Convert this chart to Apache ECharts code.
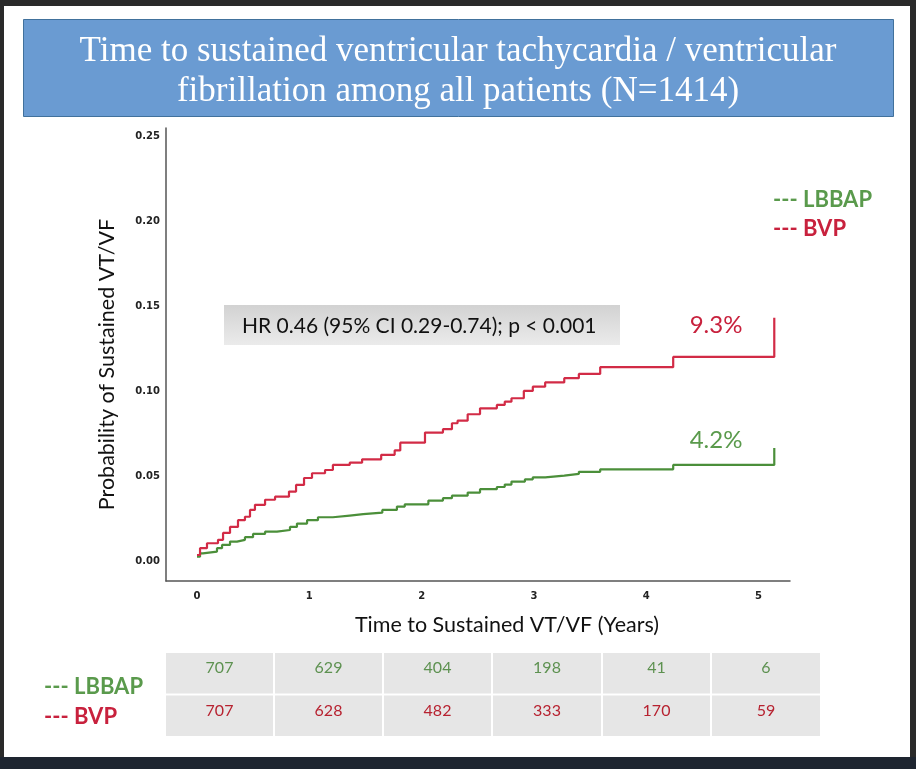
<!DOCTYPE html>
<html><head><meta charset="utf-8">
<script src="https://cdn.jsdelivr.net/npm/echarts@6/dist/echarts.min.js"></script>
<style>
html,body{margin:0;padding:0;width:916px;height:769px;overflow:hidden;background:#2a2a2a;}
#panel{position:absolute;left:4px;top:6px;width:906px;height:751px;background:#fff;}
#strip{position:absolute;left:0;top:757px;width:916px;height:12px;background:#1e2530;}
#chart{position:absolute;left:0;top:0;width:916px;height:769px;}
</style></head><body>
<div id="panel"></div><div id="strip"></div><div id="chart"></div>
<script>
// ---- data ----
const titleLines = ['Time to sustained ventricular tachycardia / ventricular', 'fibrillation among all patients (N=1414)'];
const xTicks = [0, 1, 2, 3, 4, 5];
const yTicks = [0, 0.05, 0.10, 0.15, 0.20, 0.25];
const seriesNames = ['LBBAP', 'BVP'];
const lbbapTime = [0, 0.027, 0.053, 0.178, 0.223, 0.294, 0.356, 0.427, 0.499, 0.606, 0.712, 0.828, 0.890, 0.980, 1.077, 1.21, 1.36, 1.48, 1.65, 1.78, 1.85, 2.06, 2.19, 2.27, 2.41, 2.52, 2.67, 2.74, 2.80, 2.92, 2.99, 3.10, 3.27, 3.40, 3.59, 4.24, 5.14, 5.14];
const lbbapProb = [0.0025, 0.0045, 0.0055, 0.0075, 0.0094, 0.0114, 0.0124, 0.014, 0.0159, 0.0172, 0.0182, 0.020, 0.022, 0.024, 0.0257, 0.0267, 0.0275, 0.0284, 0.030, 0.032, 0.0333, 0.0355, 0.0369, 0.0384, 0.0402, 0.0422, 0.0435, 0.0449, 0.0467, 0.048, 0.0492, 0.0502, 0.0512, 0.0524, 0.0539, 0.0565, 0.0565, 0.0665];
const bvpTime = [0, 0.027, 0.089, 0.187, 0.232, 0.294, 0.365, 0.427, 0.472, 0.516, 0.606, 0.695, 0.819, 0.882, 0.953, 1.024, 1.14, 1.21, 1.36, 1.47, 1.64, 1.76, 1.81, 2.03, 2.19, 2.27, 2.32, 2.41, 2.52, 2.67, 2.74, 2.80, 2.91, 2.99, 3.10, 3.27, 3.40, 3.59, 4.24, 5.14, 5.14];
const bvpProb = [0.0035, 0.0075, 0.0104, 0.0124, 0.0165, 0.020, 0.024, 0.026, 0.030, 0.033, 0.036, 0.0378, 0.0408, 0.0447, 0.0488, 0.0516, 0.0535, 0.0565, 0.0578, 0.0598, 0.0624, 0.065, 0.0696, 0.0755, 0.0775, 0.081, 0.0825, 0.0863, 0.0898, 0.0918, 0.0937, 0.0957, 0.100, 0.1025, 0.105, 0.1075, 0.110, 0.114, 0.120, 0.120, 0.143];
const finalLabels = ['4.2%', '9.3%'];
const atRiskLBBAP = [707, 629, 404, 198, 41, 6];
const atRiskBVP = [707, 628, 482, 333, 170, 59];
const hrText = 'HR 0.46 (95% CI 0.29-0.74); p < 0.001';
const xTitle = 'Time to Sustained VT/VF (Years)';
const yTitle = 'Probability of Sustained VT/VF';

// ---- styles ----
const GREEN = '#4b8f3a', RED = '#d22b46';
const GREEN_T = '#5a9a4c', RED_T = '#c8213d';
const SANS = 'Lato, "Open Sans", sans-serif';

const zip = (a, b) => a.map((v, i) => [v, b[i]]);

const chart = echarts.init(document.getElementById('chart'), null, {renderer: 'canvas'});

const graphics = [];
// title box
graphics.push({type: 'rect', shape: {x: 23.5, y: 19.5, width: 870, height: 97}, style: {fill: '#6a9bd2', stroke: '#41719c', lineWidth: 1}, z: 0});
titleLines.forEach((t, i) => graphics.push({type: 'text', x: 458, y: 52 + i * 40, style: {text: t, fill: '#fff', font: '35px "Liberation Serif", "Times New Roman", serif', textAlign: 'center', textVerticalAlign: 'middle'}}));
// HR box
graphics.push({type: 'rect', shape: {x: 224, y: 305, width: 396, height: 40}, style: {fill: new echarts.graphic.LinearGradient(0, 0, 0, 1, [{offset: 0, color: '#d2d2d2'}, {offset: 1, color: '#ebebeb'}])}});
graphics.push({type: 'text', x: 242, y: 326, style: {text: hrText, fill: '#111', font: '21px ' + SANS, textVerticalAlign: 'middle'}});
// final percentage labels
graphics.push({type: 'text', x: 716, y: 325, style: {text: finalLabels[1], fill: RED_T, font: '24px ' + SANS, textAlign: 'center', textVerticalAlign: 'middle'}});
graphics.push({type: 'text', x: 716, y: 440, style: {text: finalLabels[0], fill: GREEN_T, font: '24px ' + SANS, textAlign: 'center', textVerticalAlign: 'middle'}});
// at-risk table
const colEdges = [165, 274, 383, 492, 602, 711, 821];
const rowEdges = [652, 694.5, 737];
[atRiskLBBAP, atRiskBVP].forEach((row, r) => {
  row.forEach((v, c) => {
    graphics.push({type: 'rect', shape: {x: colEdges[c] + 1, y: rowEdges[r] + 1, width: colEdges[c + 1] - colEdges[c] - 2, height: rowEdges[r + 1] - rowEdges[r] - 2}, style: {fill: '#e6e6e6'}});
    graphics.push({type: 'text', x: (colEdges[c] + colEdges[c + 1]) / 2, y: rowEdges[r] + 16, style: {text: String(v), fill: r === 0 ? '#5d9150' : '#b72230', font: '16px ' + SANS, textAlign: 'center', textVerticalAlign: 'middle'}});
  });
});
graphics.push({type: 'text', x: 44, y: 687, style: {text: '--- ' + seriesNames[0], fill: GREEN_T, font: 'bold 22px ' + SANS, textVerticalAlign: 'middle'}});
graphics.push({type: 'text', x: 44, y: 717, style: {text: '--- ' + seriesNames[1], fill: RED_T, font: 'bold 22px ' + SANS, textVerticalAlign: 'middle'}});

chart.setOption({
  animation: false,
  backgroundColor: 'transparent',
  grid: {left: 166, top: 128, width: 624, height: 453, containLabel: false},
  legend: {
    orient: 'vertical', left: 768, top: 184, icon: 'none', itemWidth: 0, itemGap: 7,
    formatter: '--- {name}',
    data: [
      {name: seriesNames[0], textStyle: {color: GREEN_T}},
      {name: seriesNames[1], textStyle: {color: RED_T}}
    ],
    textStyle: {fontFamily: 'Lato', fontWeight: 'bold', fontSize: 22, padding: [0, 0, 0, -5]}
  },
  xAxis: {
    type: 'value', min: -0.276, max: 5.28,
    name: xTitle, nameLocation: 'middle', nameGap: 33,
    nameTextStyle: {fontFamily: 'Lato', fontSize: 21.5, color: '#111', padding: [0, 0, 0, 58]},
    axisLine: {show: true, onZero: false, lineStyle: {color: '#555', width: 1.5}},
    axisTick: {show: false},
    splitLine: {show: false},
    axisLabel: {customValues: xTicks, formatter: v => String(Math.round(v)), fontFamily: 'DejaVu Sans', fontWeight: 'bold', fontSize: 10, color: '#222', margin: 10}
  },
  yAxis: {
    type: 'value', min: -0.0118, max: 0.2547,
    name: yTitle, nameLocation: 'middle', nameGap: 48,
    nameTextStyle: {fontFamily: 'Lato', fontSize: 21.5, color: '#111', padding: [0, 20, 0, 0]},
    axisLine: {show: true, onZero: false, lineStyle: {color: '#555', width: 1.5}},
    axisTick: {show: false},
    splitLine: {show: false},
    axisLabel: {customValues: yTicks, formatter: v => v.toFixed(2), fontFamily: 'DejaVu Sans', fontWeight: 'bold', fontSize: 10, color: '#222', margin: 6}
  },
  graphic: graphics,
  series: [
    {name: seriesNames[0], type: 'line', step: 'end', showSymbol: false, symbol: 'none', data: zip(lbbapTime, lbbapProb), lineStyle: {color: GREEN, width: 2.2}, itemStyle: {color: GREEN}, z: 3},
    {name: seriesNames[1], type: 'line', step: 'end', showSymbol: false, symbol: 'none', data: zip(bvpTime, bvpProb), lineStyle: {color: RED, width: 2.2}, itemStyle: {color: RED}, z: 4}
  ]
});
</script></body></html>
